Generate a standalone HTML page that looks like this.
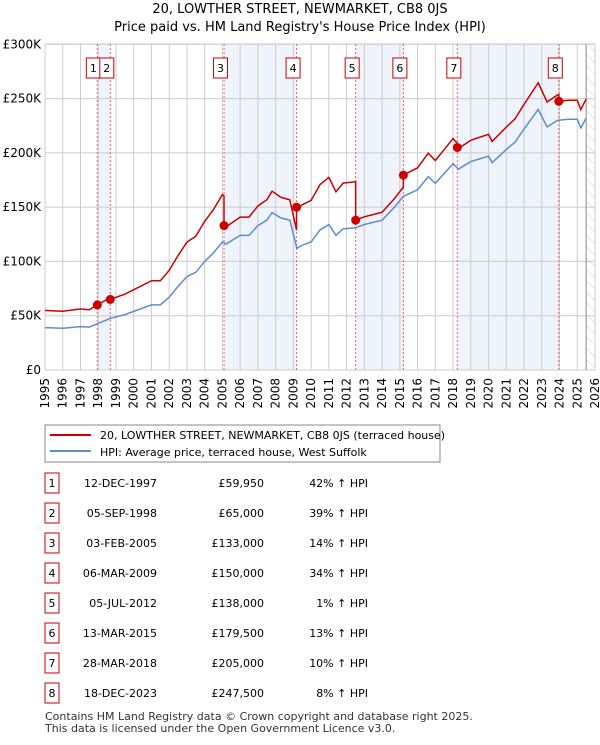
<!DOCTYPE html>
<html><head><meta charset="utf-8"><style>
body{margin:0;background:#fff;font-family:"Liberation Sans","DejaVu Sans",sans-serif;}
svg text{font-family:"DejaVu Sans","Liberation Sans",sans-serif;}
</style></head><body>
<svg id="chart" width="600" height="740" xmlns="http://www.w3.org/2000/svg">
<defs><pattern id="hatch" width="8" height="8" patternUnits="userSpaceOnUse" patternTransform="rotate(-45)"><line x1="0" y1="0" x2="0" y2="8" stroke="#ccc" stroke-width="1"/></pattern></defs>
<text x="300" y="13" text-anchor="middle" font-size="13">20, LOWTHER STREET, NEWMARKET, CB8 0JS</text>
<text x="300" y="31" text-anchor="middle" font-size="13">Price paid vs. HM Land Registry's House Price Index (HPI)</text>
<g id="bands"></g><g id="grid"></g><g id="vlines"></g>
<path id="blue" fill="none" stroke="#5b8dd0" stroke-width="1.5"/>
<path id="red" fill="none" stroke="#cc0000" stroke-width="1.5"/>
<g id="marks"></g><g id="labels"></g>
<rect x="45" y="425" width="395" height="37" fill="#fff" stroke="#888"/>
<line x1="50" y1="435" x2="91" y2="435" stroke="#cc0000" stroke-width="2"/>
<text x="100" y="439" font-size="11">20, LOWTHER STREET, NEWMARKET, CB8 0JS (terraced house)</text>
<line x1="50" y1="451" x2="91" y2="451" stroke="#5b8dd0" stroke-width="2"/>
<text x="100" y="456" font-size="11">HPI: Average price, terraced house, West Suffolk</text>
<g id="table"></g>
<text x="45" y="720" font-size="11" fill="#333">Contains HM Land Registry data © Crown copyright and database right 2025.</text>
<text x="45" y="732" font-size="11" fill="#333">This data is licensed under the Open Government Licence v3.0.</text>
</svg>
<script>
const hpiYears=[1995,1996,1997,1997.5,1998,1998.7,1999.5,2000,2001,2001.5,2002,2002.5,2003,2003.5,2004,2004.5,2005,2005.2,2006,2006.5,2007,2007.5,2007.8,2008.3,2008.8,2009.2,2009.5,2010,2010.5,2011,2011.4,2011.8,2012.5,2013,2014,2014.7,2015.2,2016,2016.6,2017,2018,2018.3,2019,2020,2020.2,2021,2021.5,2022,2022.8,2023.3,2023.9,2024.5,2025,2025.2,2025.5];
const hpiValues=[39,38.5,40,39.5,43,47.6,51,54,60,60,67,77,86,90,100,108,118,116,124,124,133,138,145,140,138,112,115,118,129,134,124,130,131,134,138,150,160,166,178,172,190,185,192,197,191,203,210,222,240,224,230,231,231,223,232];
const saleDates=[1997.95,1998.68,2005.09,2009.18,2012.51,2015.2,2018.24,2023.96];
const saleLabels=["12-DEC-1997","05-SEP-1998","03-FEB-2005","06-MAR-2009","05-JUL-2012","13-MAR-2015","28-MAR-2018","18-DEC-2023"];
const salePrices=[59950,65000,133000,150000,138000,179500,205000,247500];
const salePriceText=["£59,950","£65,000","£133,000","£150,000","£138,000","£179,500","£205,000","£247,500"];
const saleHpiText=["42% ↑ HPI","39% ↑ HPI","14% ↑ HPI","34% ↑ HPI","1% ↑ HPI","13% ↑ HPI","10% ↑ HPI","8% ↑ HPI"];
const yTicks=[0,50,100,150,200,250,300];
const yTickLabels=["£0","£50K","£100K","£150K","£200K","£250K","£300K"];
const X=y=>45+(y-1995)*550/31, Y=v=>370-v*325.7/300;
const NS="http://www.w3.org/2000/svg";
function mk(p,t,a){const e=document.createElementNS(NS,t);for(const k in a)e.setAttribute(k,a[k]);document.getElementById(p).appendChild(e);return e;}
function hpiAt(t){for(let i=1;i<hpiYears.length;i++)if(t<=hpiYears[i]){const f=(t-hpiYears[i-1])/(hpiYears[i]-hpiYears[i-1]);return hpiValues[i-1]+f*(hpiValues[i]-hpiValues[i-1]);}return hpiValues[hpiValues.length-1];}
for(let i=0;i<saleDates.length;i+=2){const b=mk('bands','rect',{x:X(saleDates[i]),y:44,width:X(saleDates[i+1])-X(saleDates[i]),height:326,fill:'#eef3fc'});

}
const h=mk('bands','rect',{x:X(2025.5),y:44,width:595-X(2025.5),height:326,fill:'url(#hatch)'});


for(let yr=1995;yr<=2026;yr++){const l=mk('grid','line',{x1:X(yr),x2:X(yr),y1:44,y2:370,stroke:'#ccc'});


const t=mk('labels','text',{x:0,y:0,'font-size':'12','text-anchor':'end',transform:`translate(${X(yr)+4},378) rotate(-90)`});t.textContent=yr;

}
yTicks.forEach((v,i)=>{const l=mk('grid','line',{x1:45,x2:595,y1:Y(v),y2:Y(v),stroke:'#ccc'});


const t=mk('labels','text',{x:41,y:Y(v)+4,'font-size':'12','text-anchor':'end'});t.textContent=yTickLabels[i];

});
mk('grid','rect',{x:45,y:44,width:550,height:326,fill:'none',stroke:'#ccc'});
mk('grid','line',{x1:X(2025.5),x2:X(2025.5),y1:44,y2:370,stroke:'#888'});
document.getElementById('blue').setAttribute('d',hpiYears.map((t,i)=>(i?'L':'M')+X(t)+','+Y(hpiValues[i])).join(''));
let d='',ts=[];for(let t=1995;t<=2025.5;t+=0.05)ts.push(+t.toFixed(2));
saleDates.forEach(s=>{ts.push(s-0.001,s);});ts.sort((a,b)=>a-b);
ts.forEach((t,i)=>{let k=0;for(let j=0;j<saleDates.length;j++)if(t>=saleDates[j])k=j;const r=salePrices[k]/1000/hpiAt(saleDates[k]);d+=(i?'L':'M')+X(t)+','+Y(hpiAt(t)*r);});
document.getElementById('red').setAttribute('d',d);
saleDates.forEach((s,i)=>{const x=X(s);
const v=mk('vlines','line',{x1:x,x2:x,y1:44,y2:370,stroke:'#f06060','stroke-dasharray':'2,2'});


const c=mk('marks','circle',{cx:x,cy:Y(salePrices[i]/1000),r:4.5,fill:'#cc0000'});


const bx=(i==0)?x-4:x-3.5;
const r=mk('marks','rect',{x:bx-7,y:58,width:14,height:20,fill:'#fff',stroke:'#cc0000'});


const t=mk('marks','text',{x:bx,y:72,'font-size':'11','text-anchor':'middle'});t.textContent=i+1;


const ry=483+i*30;
const tb=mk('table','rect',{x:45,y:ry-10,width:14,height:20,fill:'#fff',stroke:'#cc0000'});


const cells=[[52,'middle',i+1],[157,'end',saleLabels[i]],[264,'end',salePriceText[i]],[368,'end',saleHpiText[i]]];
cells.forEach(([cx,a,txt],j)=>{const e=mk('table','text',{x:cx,y:ry+4,'font-size':'11','text-anchor':a});e.textContent=txt;

});});
</script>
</body></html>
